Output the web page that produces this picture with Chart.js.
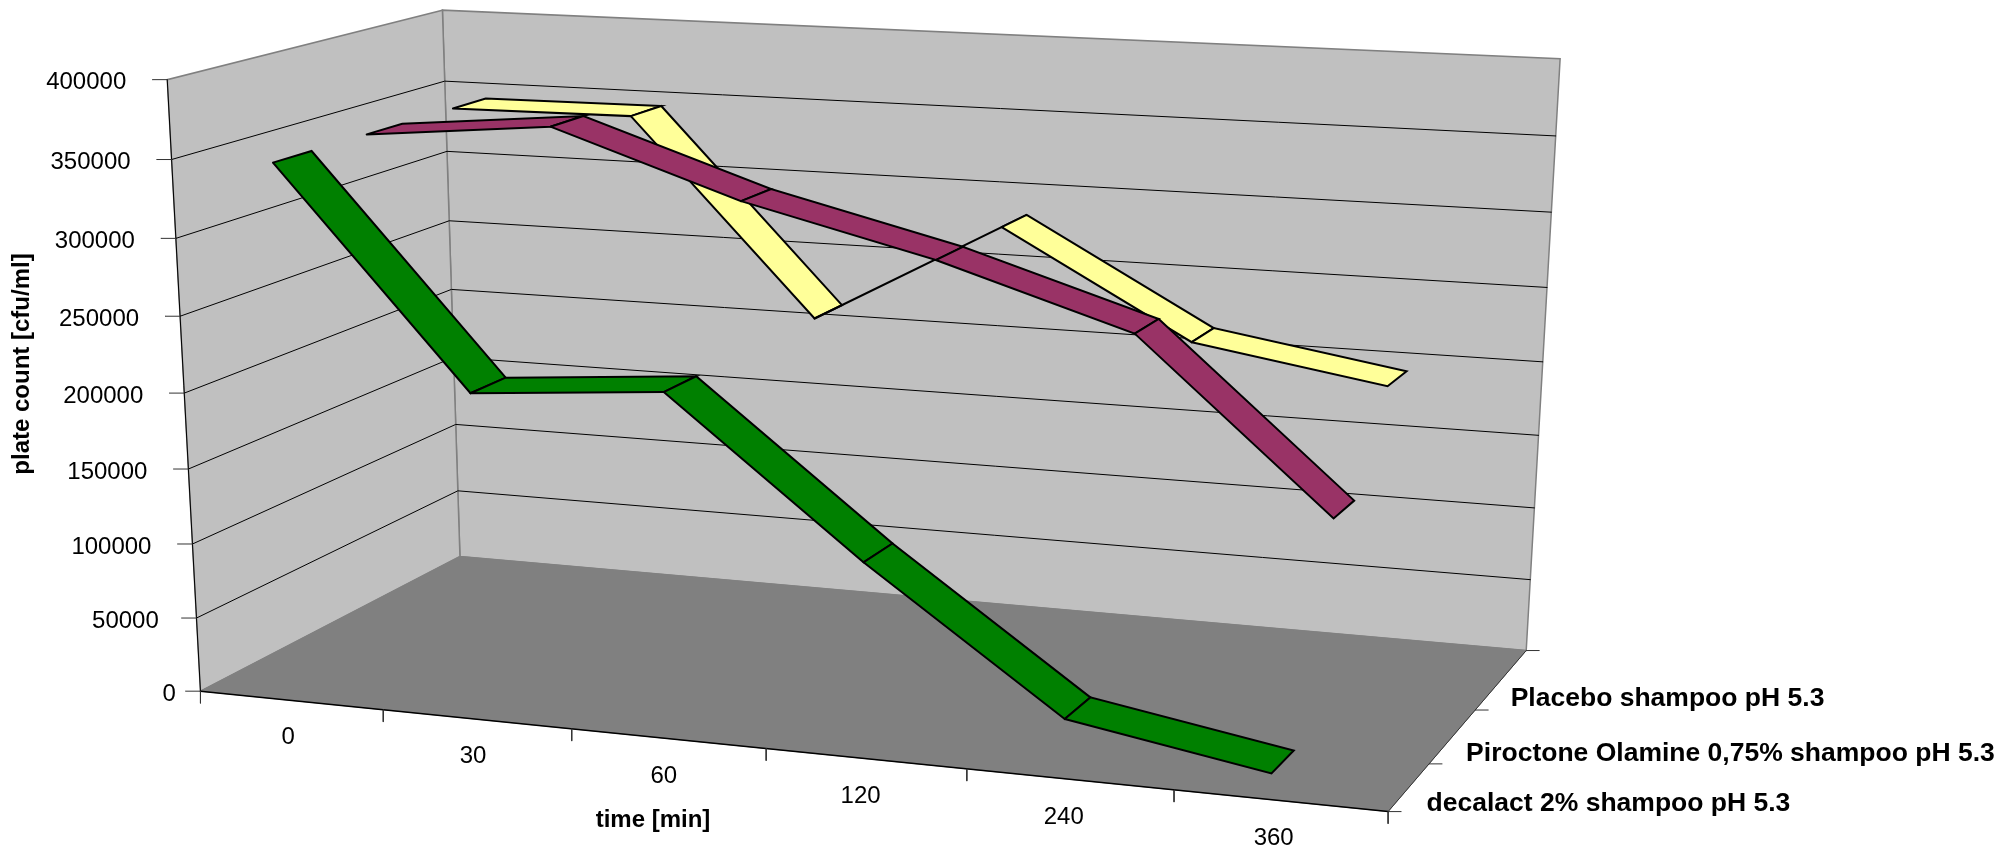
<!DOCTYPE html>
<html>
<head>
<meta charset="utf-8">
<title>plate count over time</title>
<script src="https://cdn.jsdelivr.net/npm/chart.js@4"></script>
<style>
    html, body { margin: 0; background: #fff; }
    canvas { display: block; }
</style>
</head>
<body>
<canvas id="chart" width="2013" height="846"></canvas>
<script>
// --- DATA ---
const timeLabels = ['0', '30', '60', '120', '240', '360'];
const seriesNames = ['decalact 2% shampoo pH 5.3', 'Piroctone Olamine 0,75% shampoo pH 5.3', 'Placebo shampoo pH 5.3'];
const decalactValues = [345000, 205000, 215000, 116000, 26500, 4500];
const piroctoneValues = [345000, 356500, 315000, 284500, 245500, 136000];
const placeboValues = [345000, 346000, 215000, 285000, 216000, 195500];
const valueTicks = [0, 50000, 100000, 150000, 200000, 250000, 300000, 350000, 400000];
const valueMax = 400000;

// --- 3D VIEW ---
// perspective camera of the Excel style box: u = along time, v = depth, w = height (all 0..1)
const camera = [
    [1062.14085, 317.23162, -41.42658, 200.46439],
    [47.03035, -64.81643, -615.44015, 691.18243],
    [-0.09041, 0.12555, -0.04906, 1]
];
const categoryOffset = 0.378; // where a point sits inside its category slot
const ribbonHalfDepth = 0.067;
const depthTicks = [0, 0.27, 0.6, 1]; // Excel does not space these evenly on screen

function project(u, v, w) {
    const d = camera[2][0] * u + camera[2][1] * v + camera[2][2] * w + camera[2][3];
    return {
        x: (camera[0][0] * u + camera[0][1] * v + camera[0][2] * w + camera[0][3]) / d,
        y: (camera[1][0] * u + camera[1][1] * v + camera[1][2] * w + camera[1][3]) / d
    };
}

const datasets = [];
// later pushes are drawn on top
function addShape(points, fillColor, lineColor, lineWidth) {
    datasets.push({
        data: points,
        order: -datasets.length,
        showLine: true,
        pointRadius: 0,
        tension: 0,
        fill: fillColor ? 'shape' : false,
        backgroundColor: fillColor || 'transparent',
        borderColor: lineColor,
        borderWidth: lineWidth,
        borderJoinStyle: 'miter',
        borderCapStyle: 'round'
    });
}
function closed(corners) {
    const pts = corners.map(c => project(c[0], c[1], c[2]));
    pts.push(pts[0]);
    return pts;
}

// walls and floor
addShape(closed([[0, 1, 0], [1, 1, 0], [1, 1, 1], [0, 1, 1]]), '#C0C0C0', '#808080', 1.5);
addShape(closed([[0, 0, 0], [0, 1, 0], [0, 1, 1], [0, 0, 1]]), '#C0C0C0', '#808080', 1.5);
addShape(closed([[0, 0, 0], [1, 0, 0], [1, 1, 0], [0, 1, 0]]), '#808080', '#808080', 1);

// gridlines run over the left wall and the back wall
valueTicks.slice(1, -1).forEach(t => {
    const w = t / valueMax;
    addShape([project(0, 0, w), project(0, 1, w), project(1, 1, w)], null, '#000', 1);
});

// axis edges and tick marks
addShape([project(0, 0, 0), project(0, 0, 1)], null, '#000', 1);
addShape([project(0, 0, 0), project(1, 0, 0)], null, '#000', 1.5);
addShape([project(1, 0, 0), project(1, 1, 0)], null, '#333', 1);
valueTicks.forEach(t => {
    const p = project(0, 0, t / valueMax);
    addShape([{ x: p.x - 15, y: p.y }, p], null, '#333', 1);
});
timeLabels.concat('').forEach((_, i) => {
    const p = project(i / timeLabels.length, 0, 0);
    addShape([p, { x: p.x, y: p.y + 12 }], null, '#333', 1);
});
depthTicks.forEach(v => {
    const p = project(1, v, 0);
    addShape([p, { x: p.x + 13, y: p.y }], null, '#333', 1);
});

// one flat ribbon per series, back to front
function addRibbon(values, seriesIndex, color) {
    const v = (seriesIndex + 0.5) / seriesNames.length;
    const n = values.length;
    for (let i = 0; i < n - 1; i++) {
        const u0 = (i + categoryOffset) / n;
        const u1 = (i + 1 + categoryOffset) / n;
        const w0 = values[i] / valueMax;
        const w1 = values[i + 1] / valueMax;
        addShape(closed([
            [u0, v - ribbonHalfDepth, w0],
            [u1, v - ribbonHalfDepth, w1],
            [u1, v + ribbonHalfDepth, w1],
            [u0, v + ribbonHalfDepth, w0]
        ]), color, '#000', 2);
    }
}
addRibbon(placeboValues, 2, '#FFFF99');
addRibbon(piroctoneValues, 1, '#993366');
addRibbon(decalactValues, 0, '#008000');

// --- TEXT ---
const boxLabels = {
    id: 'boxLabels',
    afterDraw(chart) {
        const ctx = chart.ctx;
        const sx = chart.scales.x;
        const sy = chart.scales.y;
        ctx.save();
        ctx.fillStyle = '#000';
        ctx.textBaseline = 'middle';

        ctx.font = '24px "Liberation Sans"';
        ctx.textAlign = 'right';
        valueTicks.forEach(t => {
            const p = project(0, 0, t / valueMax);
            const label = String(t);
            const shift = -41 + (6 - label.length) * 3.3;
            ctx.fillText(label, sx.getPixelForValue(p.x + shift), sy.getPixelForValue(p.y + 3));
        });
        ctx.textAlign = 'center';
        timeLabels.forEach((label, i) => {
            const p = project((i + 0.5) / timeLabels.length, 0, 0);
            ctx.fillText(label, sx.getPixelForValue(p.x - 3 - 0.7 * i), sy.getPixelForValue(p.y + 37 + 0.2 * i));
        });

        ctx.font = 'bold 24px "Liberation Sans"';
        ctx.fillText('time [min]', sx.getPixelForValue(653), sy.getPixelForValue(820));

        ctx.font = 'bold 26.5px "Liberation Sans"';
        ctx.textAlign = 'left';
        seriesNames.forEach((name, i) => {
            const a = project(1, depthTicks[i], 0);
            const b = project(1, depthTicks[i + 1], 0);
            const mx = (a.x + b.x) / 2;
            const my = (a.y + b.y) / 2;
            ctx.fillText(name, sx.getPixelForValue(mx + 18 - 4 * i), sy.getPixelForValue(my + 16 + i));
        });

        ctx.font = 'bold 24px "Liberation Sans"';
        ctx.translate(sx.getPixelForValue(22), sy.getPixelForValue(364));
        ctx.rotate(-Math.PI / 2);
        ctx.textAlign = 'center';
        ctx.fillText('plate count [cfu/ml]', 0, 0);
        ctx.restore();
    }
};

new Chart(document.getElementById('chart').getContext('2d'), {
    type: 'scatter',
    data: { datasets: datasets },
    plugins: [boxLabels],
    options: {
        responsive: false,
        animation: false,
        events: [],
        layout: { padding: 0 },
        plugins: {
            legend: { display: false },
            tooltip: { enabled: false }
        },
        scales: {
            x: { type: 'linear', min: 0, max: 2013, display: false },
            y: { type: 'linear', min: 0, max: 846, reverse: true, display: false }
        }
    }
});
</script>
</body>
</html>
